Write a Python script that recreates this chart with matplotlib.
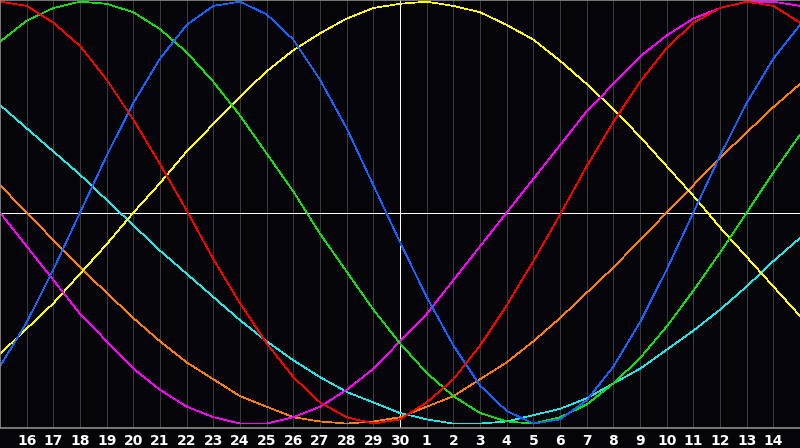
import matplotlib
matplotlib.use('Agg')
import matplotlib.pyplot as plt
import numpy as np

# day labels across the window (first and last are the edges, not labelled)
days = [15, 16, 17, 18, 19, 20, 21, 22, 23, 24, 25, 26, 27, 28, 29, 30,
        1, 2, 3, 4, 5, 6, 7, 8, 9, 10, 11, 12, 13, 14, 15]
today = 30

# cycle values, one per day
blue = [-0.73, -0.52, -0.27, 0.00, 0.27, 0.52, 0.73, 0.89, 0.98, 1.00, 0.94, 0.82, 0.63, 0.40, 0.13, -0.14,
        -0.40, -0.63, -0.82, -0.94, -1.00, -0.98, -0.89, -0.73, -0.52, -0.27, 0.00, 0.27, 0.52, 0.73, 0.89]
red = [1.00, 0.98, 0.90, 0.79, 0.63, 0.44, 0.23, 0.01, -0.22, -0.43, -0.62, -0.78, -0.90, -0.97, -1.00, -0.98,
       -0.90, -0.79, -0.63, -0.44, -0.23, -0.01, 0.22, 0.43, 0.62, 0.78, 0.90, 0.97, 1.00, 0.98, 0.90]
green = [0.81, 0.91, 0.97, 1.00, 0.99, 0.95, 0.87, 0.76, 0.62, 0.46, 0.28, 0.10, -0.10, -0.28, -0.46, -0.62,
         -0.76, -0.87, -0.95, -0.99, -1.00, -0.97, -0.91, -0.81, -0.69, -0.54, -0.37, -0.19, 0.00, 0.19, 0.37]
magenta = [0.00, -0.16, -0.32, -0.48, -0.61, -0.74, -0.84, -0.92, -0.97, -1.00, -1.00, -0.97, -0.92, -0.84, -0.74, -0.61,
           -0.48, -0.32, -0.16, 0.00, 0.16, 0.32, 0.48, 0.61, 0.74, 0.84, 0.92, 0.97, 1.00, 1.00, 0.98]
yellow = [-0.67, -0.55, -0.43, -0.29, -0.15, 0.00, 0.14, 0.29, 0.42, 0.55, 0.67, 0.77, 0.85, 0.92, 0.97, 0.99,
          1.00, 0.98, 0.95, 0.89, 0.82, 0.72, 0.61, 0.49, 0.36, 0.22, 0.08, -0.07, -0.21, -0.35, -0.49]
orange = [0.13, 0.00, -0.13, -0.26, -0.38, -0.50, -0.61, -0.71, -0.79, -0.87, -0.92, -0.97, -0.99, -1.00, -0.99, -0.97,
          -0.92, -0.87, -0.79, -0.71, -0.61, -0.50, -0.38, -0.26, -0.13, 0.00, 0.13, 0.26, 0.38, 0.50, 0.61]
cyan = [0.51, 0.40, 0.29, 0.18, 0.06, -0.06, -0.18, -0.29, -0.40, -0.51, -0.61, -0.70, -0.78, -0.85, -0.90, -0.95,
        -0.98, -1.00, -1.00, -0.99, -0.96, -0.93, -0.88, -0.81, -0.74, -0.65, -0.56, -0.46, -0.35, -0.23, -0.12]

series = [(orange, '#ff8000'), (cyan, '#20e8e8'), (yellow, '#ffff00'), (magenta, '#ff00ff'),
          (green, '#10e010'), (blue, '#1464ff'), (red, '#ff0000')]

bg = '#050408'
fig = plt.figure(figsize=(8, 4.48), dpi=100, facecolor=bg)
ax = fig.add_axes([0, 20 / 448, 1, 428 / 448])
ax.set_facecolor(bg)

x = np.arange(len(days))
ax.set_xlim(x[0], x[-1])
ax.set_ylim(-1.021, 1.008)

ax.set_xticks(x[1:-1], [str(d) for d in days[1:-1]])
ax.grid(axis='x', color='#3a3a3a', lw=0.6, antialiased=False)
ax.set_axisbelow(True)
ax.tick_params(axis='x', length=0, pad=4, labelcolor='white', labelsize=10)
for t in ax.get_xticklabels():
    t.set_fontweight('bold')
ax.set_yticks([])

ax.axhline(0, color='white', lw=0.6, antialiased=False, zorder=1)
ax.axvline(x[days.index(today)], color='white', lw=0.6, antialiased=False, zorder=1)

for vals, col in series:
    ax.plot(x, vals, color=col, lw=0.5, antialiased=False, zorder=2)

for side in ['top', 'left', 'bottom']:
    ax.spines[side].set_color('#8c8c8c')
    ax.spines[side].set_linewidth(1.2)
ax.spines['right'].set_visible(False)

fig.savefig('out.png', dpi=100, facecolor=bg)
